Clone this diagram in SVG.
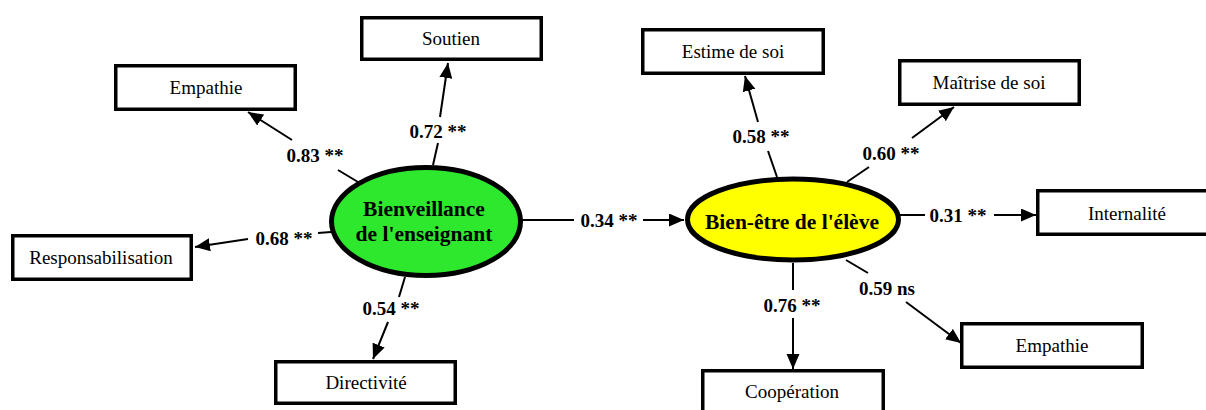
<svg xmlns="http://www.w3.org/2000/svg" width="1206" height="410" viewBox="0 0 1206 410">
<defs>
<marker id="ah" markerUnits="userSpaceOnUse" markerWidth="16" markerHeight="14" refX="15" refY="6.5" orient="auto">
<path d="M0,0 L15,6.5 L0,13 z" fill="#000"/>
</marker>
<style>
.box{fill:#fff;stroke:#000;stroke-width:3.5}
.bt{font-family:"Liberation Serif","Times New Roman",serif;font-size:19px;fill:#000;text-anchor:middle}
.lt{font-family:"Liberation Serif","Times New Roman",serif;font-size:19px;font-weight:bold;fill:#000;text-anchor:middle}
.et{font-family:"Liberation Serif","Times New Roman",serif;font-size:21.5px;font-weight:bold;fill:#000;text-anchor:middle}
.ln{stroke:#000;stroke-width:2;fill:none}
.ar{stroke:#000;stroke-width:2;fill:none;marker-end:url(#ah)}
</style>
</defs>
<rect width="1206" height="410" fill="#fff"/>
<g id="connectors">
<line class="ln" x1="358" y1="182" x2="338" y2="170"/>
<line class="ar" x1="292" y1="140" x2="248" y2="112"/>
<line class="ln" x1="433" y1="165" x2="438" y2="143"/>
<line class="ar" x1="440" y1="117" x2="448" y2="63"/>
<line class="ln" x1="331" y1="232" x2="318" y2="233"/>
<line class="ar" x1="248" y1="239" x2="195" y2="247"/>
<line class="ln" x1="405" y1="277" x2="399" y2="297"/>
<line class="ar" x1="388" y1="322" x2="373" y2="359"/>
<line class="ln" x1="521" y1="220" x2="574" y2="220"/>
<line class="ar" x1="643" y1="220" x2="684" y2="220"/>
<line class="ln" x1="777" y1="177" x2="768" y2="151"/>
<line class="ar" x1="758" y1="122" x2="745" y2="76"/>
<line class="ln" x1="847" y1="182" x2="869" y2="167"/>
<line class="ar" x1="912" y1="138" x2="954" y2="107"/>
<line class="ln" x1="899" y1="215" x2="925" y2="215"/>
<line class="ar" x1="994" y1="215" x2="1036" y2="215"/>
<line class="ln" x1="793" y1="263" x2="793" y2="290"/>
<line class="ar" x1="793" y1="318" x2="793" y2="369"/>
<line class="ln" x1="846" y1="260" x2="868" y2="273"/>
<line class="ar" x1="906" y1="302" x2="961" y2="343"/>
<text class="lt" x="315" y="162">0.83 **</text>
<text class="lt" x="438" y="138">0.72 **</text>
<text class="lt" x="284" y="245">0.68 **</text>
<text class="lt" x="391" y="315">0.54 **</text>
<text class="lt" x="609" y="227">0.34 **</text>
<text class="lt" x="761" y="143">0.58 **</text>
<text class="lt" x="891" y="160">0.60 **</text>
<text class="lt" x="958" y="222">0.31 **</text>
<text class="lt" x="792" y="312">0.76 **</text>
<text class="lt" x="887" y="295">0.59 ns</text>
</g>
<g id="bienveillance">
<ellipse cx="426" cy="221.5" rx="94.5" ry="54" fill="#2ee82e" stroke="#000" stroke-width="5"/>
<text class="et" x="424" y="216">Bienveillance</text>
<text class="et" x="424" y="241">de l'enseignant</text>
</g>
<g id="bienetre">
<ellipse cx="793" cy="219.5" rx="105.5" ry="40.5" fill="#ffff00" stroke="#000" stroke-width="5"/>
<text class="et" x="792" y="229">Bien-être de l'élève</text>
</g>
<g id="soutien"><rect class="box" x="361.75" y="17.75" width="179.5" height="41.5"/><text class="bt" x="451" y="45">Soutien</text></g>
<g id="empathie1"><rect class="box" x="115.75" y="65.75" width="179.5" height="43.5"/><text class="bt" x="206" y="94">Empathie</text></g>
<g id="responsabilisation"><rect class="box" x="12.75" y="235.75" width="178.5" height="43.5"/><text class="bt" x="101" y="264">Responsabilisation</text></g>
<g id="directivite"><rect class="box" x="275.75" y="361.75" width="179.5" height="41.5"/><text class="bt" x="366" y="389">Directivité</text></g>
<g id="estime"><rect class="box" x="642.75" y="29.75" width="180.5" height="43.5"/><text class="bt" x="733" y="58">Estime de soi</text></g>
<g id="maitrise"><rect class="box" x="899.75" y="60.75" width="179.5" height="43.5"/><text class="bt" x="989" y="89">Maîtrise de soi</text></g>
<g id="internalite"><rect class="box" x="1037.75" y="190.75" width="179.5" height="43.5"/><text class="bt" x="1127" y="220">Internalité</text></g>
<g id="cooperation"><rect class="box" x="702.75" y="370.75" width="180.5" height="50"/><text class="bt" x="792" y="398">Coopération</text></g>
<g id="empathie2"><rect class="box" x="961.75" y="323.75" width="180.5" height="43.5"/><text class="bt" x="1052" y="352">Empathie</text></g>
</svg>
